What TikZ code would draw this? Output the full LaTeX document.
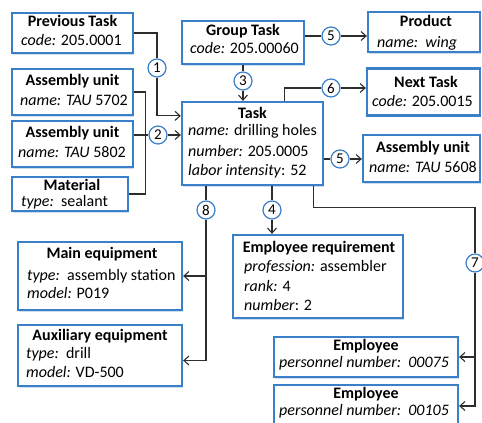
\documentclass[tikz,border=0pt]{standalone}
\usepackage{fontspec}
\setmainfont{Carlito}
\usetikzlibrary{arrows.meta,calc,shadows}
\definecolor{boxblue}{RGB}{58,128,200}
\definecolor{shadowblue}{RGB}{205,222,240}
\definecolor{linegray}{RGB}{45,45,45}
\tikzset{
  box/.style={draw=boxblue, line width=2.3pt, fill=white, inner sep=0pt,
    drop shadow={shadow xshift=1pt, shadow yshift=-1.6pt, fill=shadowblue, opacity=1}},
  ttl/.style={font=\fontsize{16}{19}\selectfont\bfseries, anchor=base, inner sep=0pt},
  atr/.style={font=\fontsize{16}{19}\selectfont, anchor=base west, inner sep=0pt},
  atc/.style={font=\fontsize{16}{19}\selectfont, anchor=base, inner sep=0pt},
  num/.style={circle, draw=boxblue, line width=1.2pt, fill=white, minimum size=18pt,
    inner sep=0pt, font=\fontsize{15}{15}\selectfont},
  conn/.style={draw=linegray, line width=1.1pt},
  arr/.style={conn, -{Straight Barb[length=5pt,width=9pt]}}
}
\begin{document}
\begin{tikzpicture}[x=1pt,y=-1pt]
\useasboundingbox (0,0) rectangle (482,423);
\clip (0,0) rectangle (482,423);
% boxes
\node[box, minimum width=121pt, minimum height=40pt] (prev) at (72.5,33) {};
\node[ttl] (prev-t) at (72.5,26) {Previous Task};
\node[atr] (prev-a) at (21,45) {\textit{code:} 205.0001};

\node[box, minimum width=121pt, minimum height=46pt] (au1) at (72.5,92) {};
\node[ttl] (au1-t) at (72.5,85) {Assembly unit};
\node[atr] (au1-a) at (20,105) {\textit{name: TAU} 5702};

\node[box, minimum width=121pt, minimum height=46pt] (au2) at (72.5,144) {};
\node[ttl] (au2-t) at (72.5,137) {Assembly unit};
\node[atr] (au2-a) at (18,157) {\textit{name: TAU} 5802};

\node[box, minimum width=116pt, minimum height=34pt] (mat) at (70,194) {};
\node[ttl] (mat-t) at (72,190.5) {Material};
\node[atr] (mat-a) at (21,206) {\textit{type:}\ \ sealant};

\node[box, minimum width=122pt, minimum height=43pt] (group) at (243,42.5) {};
\node[ttl] (group-t) at (243,35) {Group Task};
\node[atr] (group-a) at (190,53) {\textit{code:} 205.00060};

\node[box, minimum width=112pt, minimum height=40pt] (product) at (424,32) {};
\node[ttl] (product-t) at (426,26) {Product};
\node[atr] (product-a) at (377,47) {\textit{name:\ \ wing}};

\node[box, minimum width=113pt, minimum height=47pt] (next) at (423.5,92) {};
\node[ttl] (next-t) at (426,87) {Next Task};
\node[atr] (next-a) at (372,106) {\textit{code:} 205.0015};

\node[box, minimum width=141pt, minimum height=83pt] (task) at (252.5,143.5) {};
\node[ttl] (task-t) at (252.5,118) {Task};
\node[atr] (task-a1) at (188,135) {\textit{name:} drilling holes};
\node[atr] (task-a2) at (188,156) {\textit{number:} 205.0005};
\node[atr] (task-a3) at (188,175) {\textit{labor intensity}: 52};

\node[box, minimum width=117pt, minimum height=47pt] (au3) at (421.5,158.5) {};
\node[ttl] (au3-t) at (423,152) {Assembly unit};
\node[atr] (au3-a) at (369,172) {\textit{name: TAU} 5608};

\node[box, minimum width=170pt, minimum height=83pt] (empreq) at (318,276.5) {};
\node[ttl] (empreq-t) at (319,252) {Employee requirement};
\node[atr] (empreq-a1) at (244,271) {\textit{profession:} assembler};
\node[atr] (empreq-a2) at (244,291) {\textit{rank:} 4};
\node[atr] (empreq-a3) at (244,310) {\textit{number}: 2};

\node[box, minimum width=164pt, minimum height=68pt] (main) at (100,276) {};
\node[ttl] (main-t) at (102,258) {Main equipment};
\node[atr] (main-a1) at (27,280) {\textit{type:}\ \ assembly station};
\node[atr] (main-a2) at (27,298) {\textit{model:} P019};

\node[box, minimum width=164pt, minimum height=61pt] (aux) at (100,355.5) {};
\node[ttl] (aux-t) at (100,340) {Auxiliary equipment};
\node[atr] (aux-a1) at (26,358) {\textit{type:}\ \ drill};
\node[atr] (aux-a2) at (26,377) {\textit{model:} VD-500};

\node[box, minimum width=184pt, minimum height=40pt] (emp1) at (366,357) {};
\node[ttl] (emp1-t) at (366,350) {Employee};
\node[atc] (emp1-a) at (364,367) {\textit{personnel number:\ \ 00075}};

\node[box, minimum width=184pt, minimum height=46pt, anchor=north] (emp2) at (366,384) {};
\node[ttl] (emp2-t) at (366,398) {Employee};
\node[atc] (emp2-a) at (364,415) {\textit{personnel number:\ \ 00105}};

% number circles
\node[num] (c1) at (157,68) {1};
\node[num] (c2) at (158,135) {2};
\node[num] (c3) at (243,81) {3};
\node[num] (c5a) at (331,36) {5};
\node[num] (c6) at (331,88) {6};
\node[num] (c5b) at (340,159) {5};
\node[num] (c8) at (206,210) {8};
\node[num] (c4) at (272,210) {4};
\node[num] (c7) at (475,263) {7};
% connectors
\draw[conn] (prev.east) -| (c1.north);
\draw[arr] (c1.south) |- ($(task.north west)+(0,15)$);
\draw[conn] (au1.east) -- ++(11,0) |- (mat.east);
\draw[conn] (c2 -| au2.east) -- (c2.west);
\draw[arr] (c2.east) -- (c2 -| task.west);
\draw[conn] (group.south -| c3) -- (c3.north);
\draw[arr] (c3.south) -- (c3 |- task.north);
\draw[conn] (c5a -| group.east) -- (c5a.west);
\draw[arr] (c5a.east) -- (c5a -| product.west);
\draw[conn] ($(task.north west)+(104,0)$) |- (c6.west);
\draw[arr] (c6.east) -- (c6 -| next.west);
\draw[conn] (c5b -| task.east) -- (c5b.west);
\draw[arr] (c5b.east) -- (c5b -| au3.west);
\draw[conn] (c4 |- task.south) -- (c4.north);
\draw[arr] (c4.south) -- (c4 |- empreq.north);
\draw[conn] (c8 |- task.south) -- (c8.north);
\draw[arr] (c8.south) |- ($(aux.east)+(0,5)$);
\draw[arr] (c8.south |- main.east) -- (main.east);
\draw[conn] ($(task.south east)+(-11,0)$) -- ++(0,21) -| (c7.north);
\draw[arr] (c7.south) |- ($(emp2.north east)+(0,22)$);
\draw[arr] (c7.south |- emp1.east) -- (emp1.east);
\end{tikzpicture}
\end{document}
